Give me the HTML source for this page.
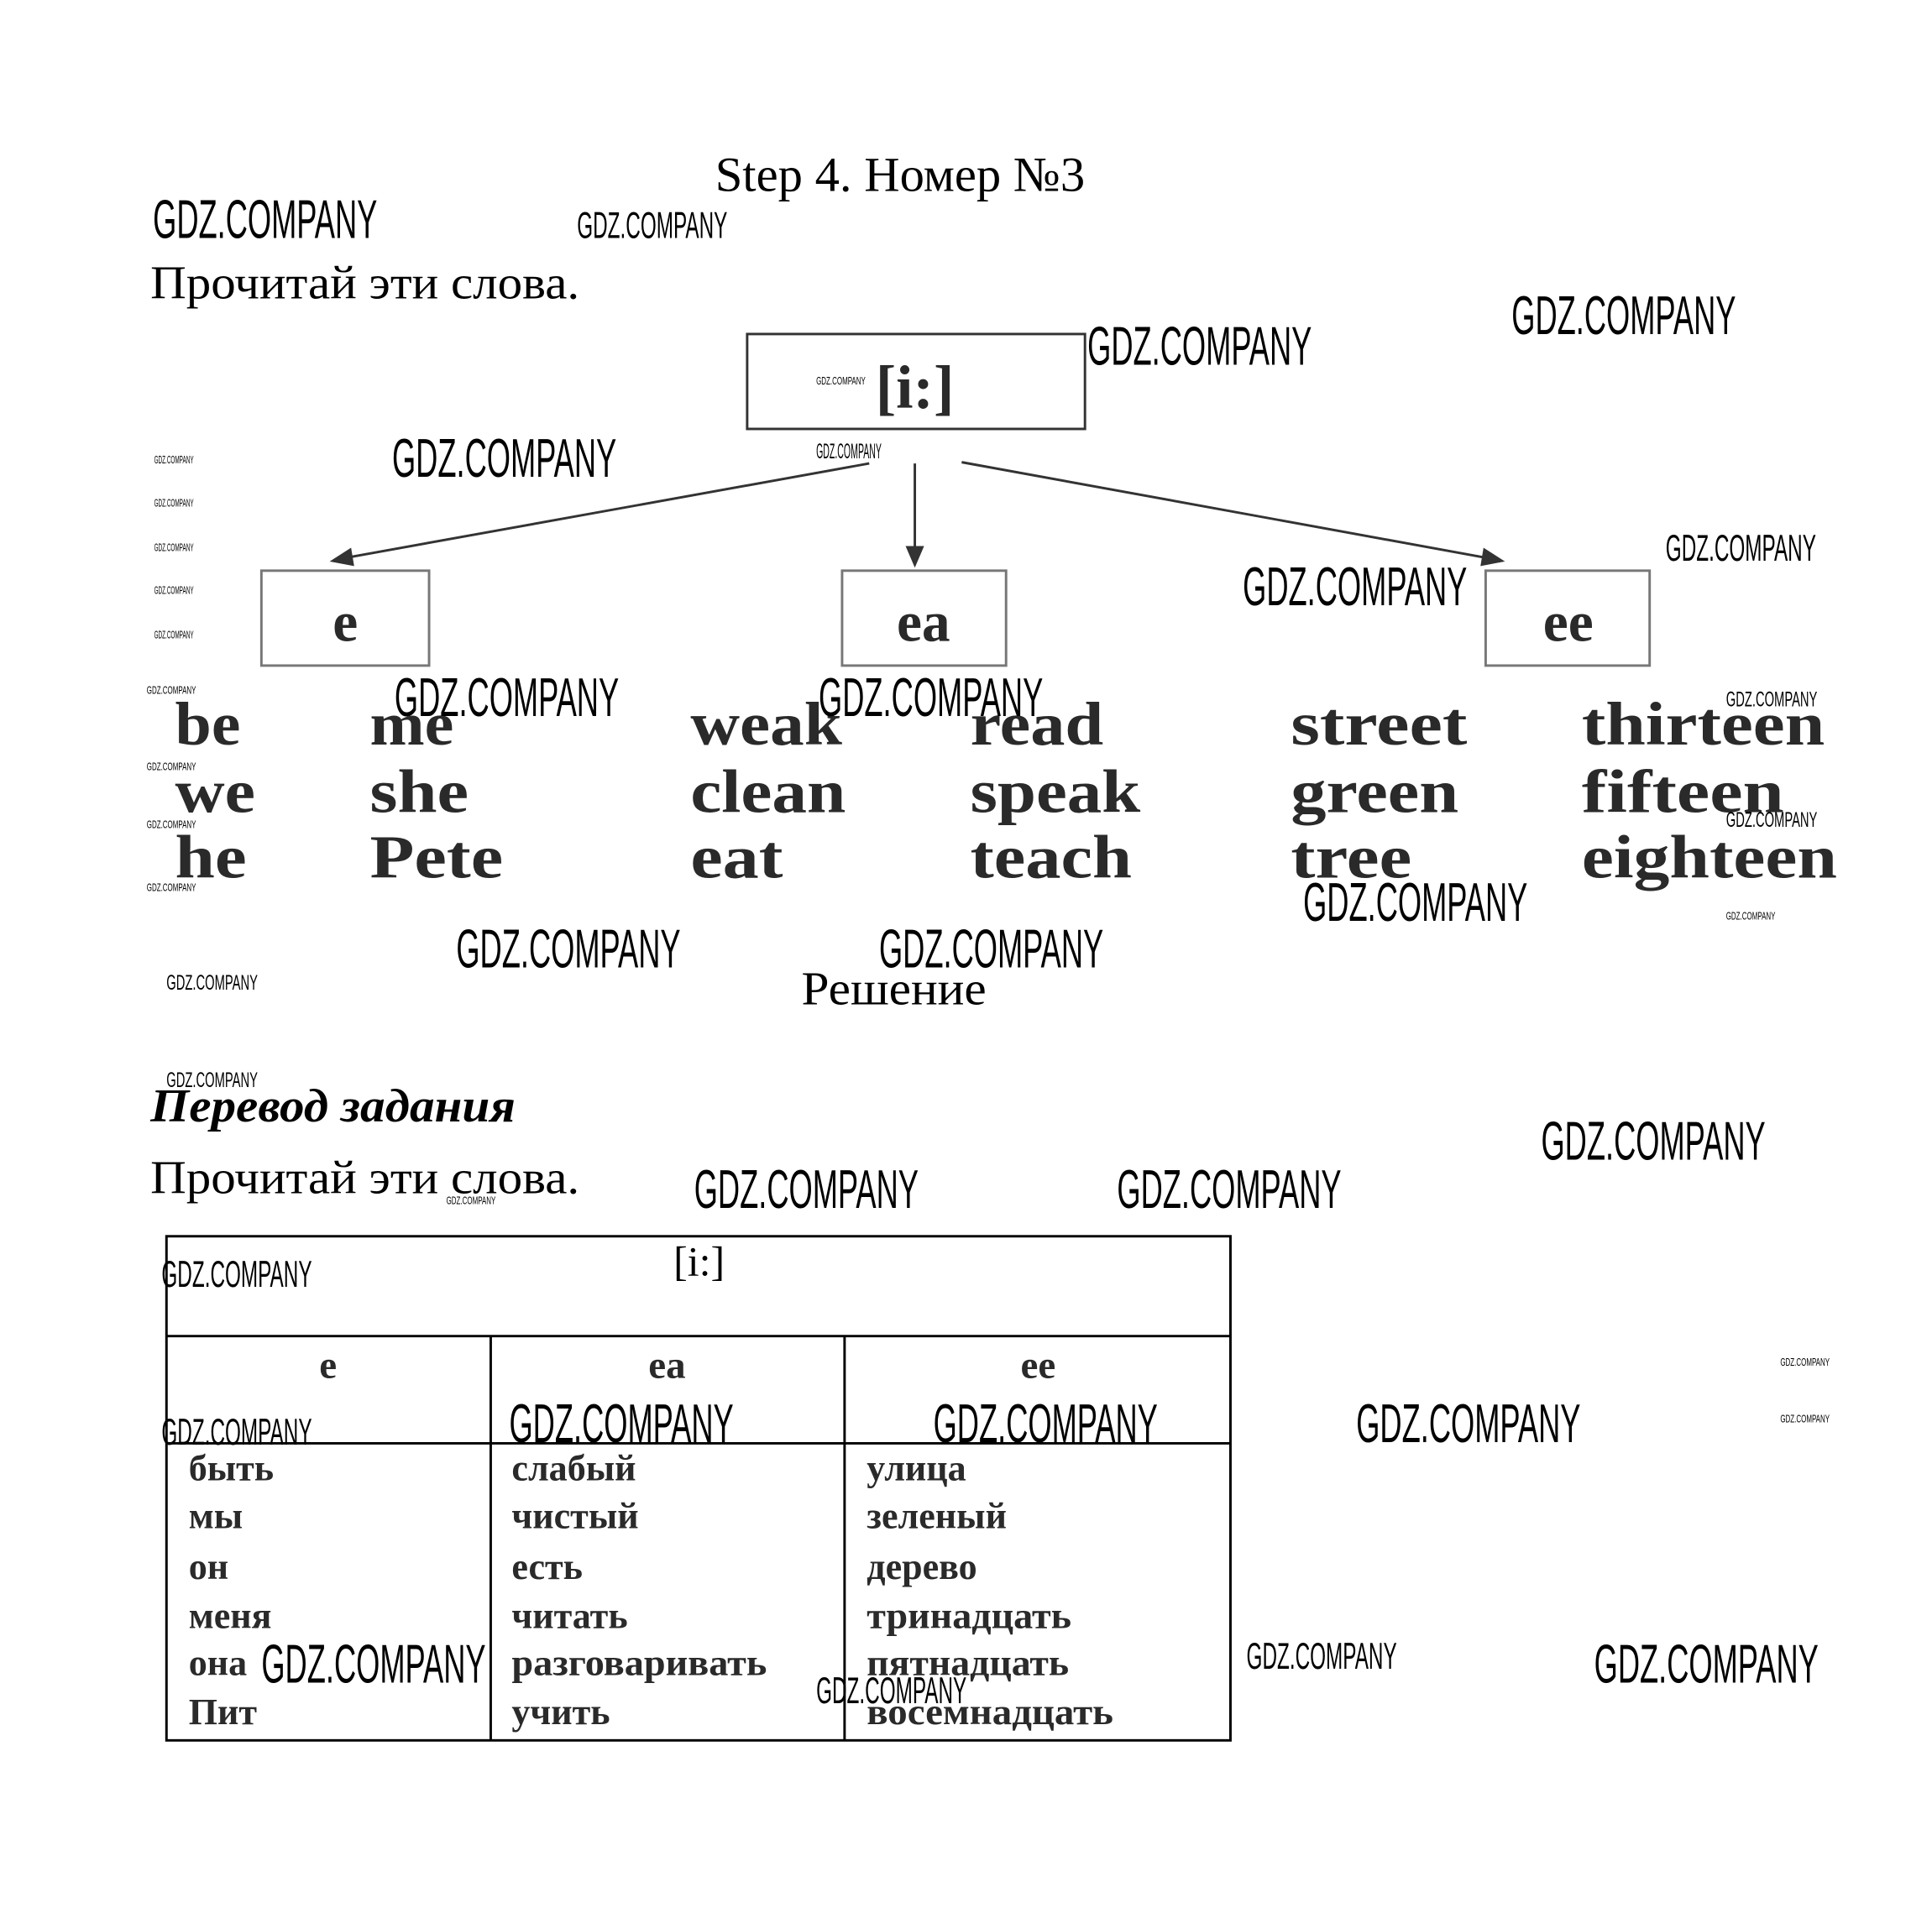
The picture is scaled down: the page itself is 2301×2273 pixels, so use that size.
<!DOCTYPE html>
<html><head><meta charset="utf-8"><style>
html,body{margin:0;padding:0;background:#fff;}
svg{display:block;}
.s{font-family:"Liberation Serif","DejaVu Serif",serif;fill:#000;}
.w{font-family:"Liberation Sans Narrow","Liberation Sans",sans-serif;fill:#000;}
.b{font-family:"Liberation Serif","DejaVu Serif",serif;font-weight:bold;fill:#2a2a2a;}
</style></head><body>
<svg width="2301" height="2273" viewBox="0 0 1567 1548" xmlns="http://www.w3.org/2000/svg">
<rect width="1567" height="1548" fill="#fff"/>
<text class="s" x="580" y="155" font-size="40" textLength="300" lengthAdjust="spacingAndGlyphs">Step 4. Номер №3</text>
<text class="s" x="122" y="242" font-size="38" textLength="348" lengthAdjust="spacingAndGlyphs">Прочитай эти слова.</text>
<rect x="606" y="271" width="274" height="77" fill="none" stroke="#333" stroke-width="2"/>
<text class="b" x="742" y="331" font-size="50" text-anchor="middle">[i:]</text>
<g stroke="#333" stroke-width="2" fill="#333">
<line x1="705" y1="376" x2="278" y2="453"/><polygon points="270,455 284,446 286,458"/>
<line x1="742" y1="376" x2="742" y2="448"/><polygon points="742,458 736,444 748,444"/>
<line x1="780" y1="375" x2="1208" y2="453"/><polygon points="1218,455 1204,446 1202,458"/>
</g>
<g fill="none" stroke="#777" stroke-width="2">
<rect x="212" y="463" width="136" height="77"/><rect x="683" y="463" width="133" height="77"/><rect x="1205" y="463" width="133" height="77"/>
</g>
<g class="b" font-size="46" text-anchor="middle">
<text x="280" y="520">e</text><text x="749" y="520">ea</text><text x="1272" y="520">ee</text>
</g>
<g class="b" font-size="50" lengthAdjust="spacingAndGlyphs">
<text x="142" y="604" textLength="53" lengthAdjust="spacingAndGlyphs">be</text><text x="300" y="604" textLength="68" lengthAdjust="spacingAndGlyphs">me</text><text x="560" y="604" textLength="123" lengthAdjust="spacingAndGlyphs">weak</text><text x="787" y="604" textLength="108" lengthAdjust="spacingAndGlyphs">read</text><text x="1047" y="604" textLength="143" lengthAdjust="spacingAndGlyphs">street</text><text x="1283" y="604" textLength="197" lengthAdjust="spacingAndGlyphs">thirteen</text>
<text x="142" y="659" textLength="65" lengthAdjust="spacingAndGlyphs">we</text><text x="300" y="659" textLength="80" lengthAdjust="spacingAndGlyphs">she</text><text x="560" y="659" textLength="126" lengthAdjust="spacingAndGlyphs">clean</text><text x="787" y="659" textLength="138" lengthAdjust="spacingAndGlyphs">speak</text><text x="1047" y="659" textLength="136" lengthAdjust="spacingAndGlyphs">green</text><text x="1283" y="659" textLength="164" lengthAdjust="spacingAndGlyphs">fifteen</text>
<text x="142" y="712" textLength="58" lengthAdjust="spacingAndGlyphs">he</text><text x="300" y="712" textLength="108" lengthAdjust="spacingAndGlyphs">Pete</text><text x="560" y="712" textLength="75" lengthAdjust="spacingAndGlyphs">eat</text><text x="787" y="712" textLength="131" lengthAdjust="spacingAndGlyphs">teach</text><text x="1047" y="712" textLength="98" lengthAdjust="spacingAndGlyphs">tree</text><text x="1283" y="712" textLength="207" lengthAdjust="spacingAndGlyphs">eighteen</text>
</g>
<text class="s" x="650" y="815" font-size="38" textLength="150" lengthAdjust="spacingAndGlyphs">Решение</text>
<text class="s" x="122" y="910" font-size="38" font-weight="bold" font-style="italic" textLength="296" lengthAdjust="spacingAndGlyphs">Перевод задания</text>
<text class="s" x="122" y="968" font-size="38" textLength="348" lengthAdjust="spacingAndGlyphs">Прочитай эти слова.</text>
<g stroke="#000" stroke-width="2" fill="none">
<rect x="135" y="1003" width="863" height="409"/>
<line x1="135" y1="1084" x2="998" y2="1084"/><line x1="135" y1="1171" x2="998" y2="1171"/>
<line x1="398" y1="1084" x2="398" y2="1412"/><line x1="685" y1="1084" x2="685" y2="1412"/>
</g>
<text class="s" x="567" y="1035" font-size="34" text-anchor="middle">[i:]</text>
<g class="b" font-size="32" text-anchor="middle"><text x="266" y="1118">e</text><text x="541" y="1118">ea</text><text x="842" y="1118">ee</text></g>
<g class="b" font-size="30">
<text x="153" y="1201">быть</text><text x="153" y="1240">мы</text><text x="153" y="1281">он</text><text x="153" y="1321">меня</text><text x="153" y="1359">она</text><text x="153" y="1399">Пит</text>
<text x="415" y="1201">слабый</text><text x="415" y="1240">чистый</text><text x="415" y="1281">есть</text><text x="415" y="1321">читать</text><text x="415" y="1359" textLength="207" lengthAdjust="spacingAndGlyphs">разговаривать</text><text x="415" y="1399">учить</text>
<text x="703" y="1201">улица</text><text x="703" y="1240">зеленый</text><text x="703" y="1281">дерево</text><text x="703" y="1321" textLength="166" lengthAdjust="spacingAndGlyphs">тринадцать</text><text x="703" y="1359" textLength="164" lengthAdjust="spacingAndGlyphs">пятнадцать</text><text x="703" y="1399" textLength="200" lengthAdjust="spacingAndGlyphs">восемнадцать</text>
</g>
<g class="w" font-size="44">
<text x="124" y="193" textLength="182" lengthAdjust="spacingAndGlyphs">GDZ.COMPANY</text>
<text x="318" y="387" textLength="182" lengthAdjust="spacingAndGlyphs">GDZ.COMPANY</text>
<text x="882" y="296" textLength="182" lengthAdjust="spacingAndGlyphs">GDZ.COMPANY</text>
<text x="1226" y="271" textLength="182" lengthAdjust="spacingAndGlyphs">GDZ.COMPANY</text>
<text x="1008" y="491" textLength="182" lengthAdjust="spacingAndGlyphs">GDZ.COMPANY</text>
<text x="320" y="581" textLength="182" lengthAdjust="spacingAndGlyphs">GDZ.COMPANY</text>
<text x="664" y="581" textLength="182" lengthAdjust="spacingAndGlyphs">GDZ.COMPANY</text>
<text x="1057" y="747" textLength="182" lengthAdjust="spacingAndGlyphs">GDZ.COMPANY</text>
<text x="370" y="785" textLength="182" lengthAdjust="spacingAndGlyphs">GDZ.COMPANY</text>
<text x="713" y="785" textLength="182" lengthAdjust="spacingAndGlyphs">GDZ.COMPANY</text>
<text x="1250" y="941" textLength="182" lengthAdjust="spacingAndGlyphs">GDZ.COMPANY</text>
<text x="563" y="980" textLength="182" lengthAdjust="spacingAndGlyphs">GDZ.COMPANY</text>
<text x="906" y="980" textLength="182" lengthAdjust="spacingAndGlyphs">GDZ.COMPANY</text>
<text x="413" y="1170" textLength="182" lengthAdjust="spacingAndGlyphs">GDZ.COMPANY</text>
<text x="757" y="1170" textLength="182" lengthAdjust="spacingAndGlyphs">GDZ.COMPANY</text>
<text x="1100" y="1170" textLength="182" lengthAdjust="spacingAndGlyphs">GDZ.COMPANY</text>
<text x="212" y="1365" textLength="182" lengthAdjust="spacingAndGlyphs">GDZ.COMPANY</text>
<text x="1293" y="1365" textLength="182" lengthAdjust="spacingAndGlyphs">GDZ.COMPANY</text>
</g>
<g class="w" font-size="30">
<text x="468" y="193" textLength="122" lengthAdjust="spacingAndGlyphs">GDZ.COMPANY</text>
<text x="1351" y="455" textLength="122" lengthAdjust="spacingAndGlyphs">GDZ.COMPANY</text>
<text x="131" y="1044" textLength="122" lengthAdjust="spacingAndGlyphs">GDZ.COMPANY</text>
<text x="131" y="1172" textLength="122" lengthAdjust="spacingAndGlyphs">GDZ.COMPANY</text>
<text x="1011" y="1354" textLength="122" lengthAdjust="spacingAndGlyphs">GDZ.COMPANY</text>
<text x="662" y="1382" textLength="122" lengthAdjust="spacingAndGlyphs">GDZ.COMPANY</text>
</g>
<g class="w" font-size="17">
<text x="135" y="803" textLength="74" lengthAdjust="spacingAndGlyphs">GDZ.COMPANY</text>
<text x="135" y="882" textLength="74" lengthAdjust="spacingAndGlyphs">GDZ.COMPANY</text>
<text x="1400" y="573" textLength="74" lengthAdjust="spacingAndGlyphs">GDZ.COMPANY</text>
<text x="1400" y="671" textLength="74" lengthAdjust="spacingAndGlyphs">GDZ.COMPANY</text>
<text x="662" y="372" textLength="53" lengthAdjust="spacingAndGlyphs">GDZ.COMPANY</text>
</g>
<g class="w" font-size="9">
<text x="662" y="312" textLength="40" lengthAdjust="spacingAndGlyphs">GDZ.COMPANY</text>
<text x="125" y="376" textLength="32" lengthAdjust="spacingAndGlyphs">GDZ.COMPANY</text>
<text x="125" y="411" textLength="32" lengthAdjust="spacingAndGlyphs">GDZ.COMPANY</text>
<text x="125" y="447" textLength="32" lengthAdjust="spacingAndGlyphs">GDZ.COMPANY</text>
<text x="125" y="482" textLength="32" lengthAdjust="spacingAndGlyphs">GDZ.COMPANY</text>
<text x="125" y="518" textLength="32" lengthAdjust="spacingAndGlyphs">GDZ.COMPANY</text>
<text x="119" y="563" textLength="40" lengthAdjust="spacingAndGlyphs">GDZ.COMPANY</text>
<text x="119" y="625" textLength="40" lengthAdjust="spacingAndGlyphs">GDZ.COMPANY</text>
<text x="119" y="672" textLength="40" lengthAdjust="spacingAndGlyphs">GDZ.COMPANY</text>
<text x="119" y="723" textLength="40" lengthAdjust="spacingAndGlyphs">GDZ.COMPANY</text>
<text x="1400" y="746" textLength="40" lengthAdjust="spacingAndGlyphs">GDZ.COMPANY</text>
<text x="362" y="977" textLength="40" lengthAdjust="spacingAndGlyphs">GDZ.COMPANY</text>
<text x="1444" y="1108" textLength="40" lengthAdjust="spacingAndGlyphs">GDZ.COMPANY</text>
<text x="1444" y="1154" textLength="40" lengthAdjust="spacingAndGlyphs">GDZ.COMPANY</text>
</g>
</svg>
</body></html>
